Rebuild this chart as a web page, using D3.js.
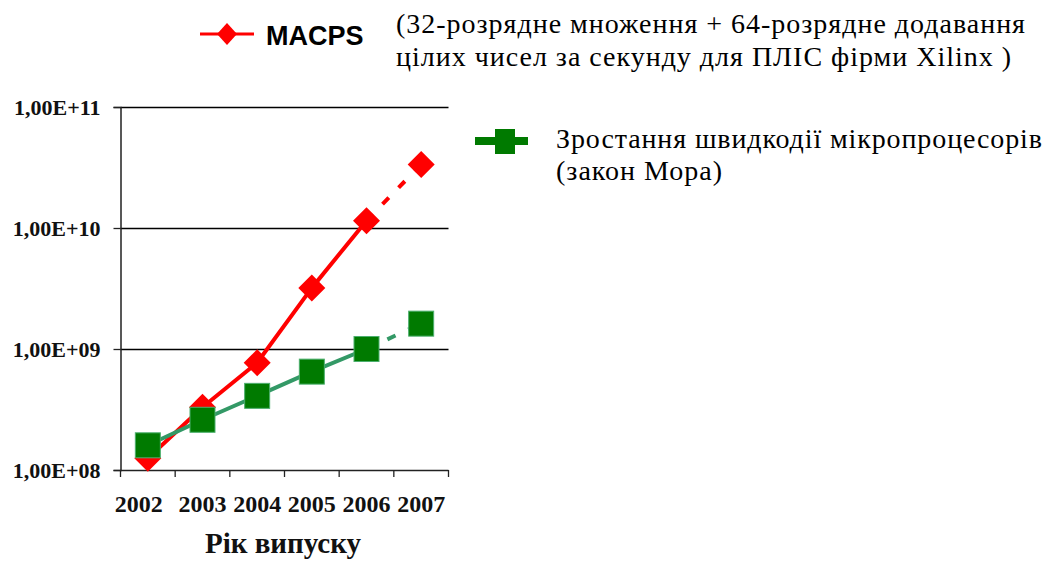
<!DOCTYPE html>
<html>
<head>
<meta charset="utf-8">
<script src="https://cdn.jsdelivr.net/npm/d3@7"></script>
<style>
  html, body { margin: 0; padding: 0; background: #fff; }
  svg { display: block; }
</style>
</head>
<body>
<svg id="chart" width="1050" height="562"></svg>
<script>
// Release years (category axis)
const years = ["2002", "2003", "2004", "2005", "2006", "2007"];
// MACPS: 32-bit multiply + 64-bit add operations per second, Xilinx FPGAs
const macps = [1.25e8, 3.3e8, 7.7e8, 3.2e9, 1.15e10, 3.35e10];
// Microprocessor performance growth (Moore's law)
const moore = [1.6e8, 2.6e8, 4.1e8, 6.5e8, 1.0e9, 1.62e9];
// Log-axis ticks and their labels
const yTicks = [1e8, 1e9, 1e10, 1e11];
const yTickLabels = ["1,00E+08", "1,00E+09", "1,00E+10", "1,00E+11"];
// Index of the last measured year; the segment after it is a forecast
const lastActual = 4;

const legendMacpsName = "MACPS";
const legendMacpsNote = ["(32-розрядне множення + 64-розрядне додавання",
                         "цілих чисел за секунду для ПЛІС фірми Xilinx )"];
const legendMooreNote = ["Зростання швидкодії мікропроцесорів", "(закон Мора)"];
const xTitle = "Рік випуску";

const svg = d3.select("#chart");
const serif = "'Liberation Serif', 'Times New Roman', serif";
const sans = "'Liberation Sans', Arial, sans-serif";

const plot = { left: 120.5, right: 448.5, top: 107, bottom: 470 };

const x = d3.scaleBand().domain(years).range([plot.left, plot.right]).padding(0);
const y = d3.scaleLog().domain([1e8, 1e11]).range([plot.bottom, plot.top]);
const cx = d => x(d) + x.bandwidth() / 2;

// Horizontal gridlines
svg.append("g")
  .selectAll("line")
  .data(yTicks.slice(1))
  .join("line")
  .attr("x1", plot.left).attr("x2", plot.right)
  .attr("y1", d => Math.round(y(d)) + 0.5).attr("y2", d => Math.round(y(d)) + 0.5)
  .attr("stroke", "#000").attr("stroke-width", 1.3);

// Y axis
const yAxis = d3.axisLeft(y)
  .tickValues(yTicks)
  .tickFormat((d, i) => yTickLabels[i])
  .tickSize(7)
  .tickPadding(13);
const gy = svg.append("g")
  .attr("transform", `translate(${plot.left},0)`)
  .call(yAxis);
gy.select(".domain").attr("stroke", "#222").attr("stroke-width", 1.5);
gy.selectAll(".tick line").attr("stroke", "#222").attr("stroke-width", 1.3);
gy.selectAll(".tick text")
  .attr("fill", "#111")
  .attr("font-family", serif)
  .attr("font-weight", "bold")
  .attr("font-size", 22);

// X axis: ticks at band boundaries, labels centred in bands
const gx = svg.append("g").attr("transform", `translate(0,${plot.bottom})`);
gx.append("line")
  .attr("x1", plot.left).attr("x2", plot.right)
  .attr("y1", 0.5).attr("y2", 0.5)
  .attr("stroke", "#222").attr("stroke-width", 1.5);
const edges = years.map(d => x(d)).concat([plot.right]);
gx.selectAll("line.tk")
  .data(edges)
  .join("line")
  .attr("class", "tk")
  .attr("x1", d => d).attr("x2", d => d)
  .attr("y1", 0).attr("y2", 7)
  .attr("stroke", "#222").attr("stroke-width", 1.3);
gx.selectAll("text")
  .data(years)
  .join("text")
  .attr("x", d => cx(d))
  .attr("dx", (d, i) => (i === 0 ? -9 : 0)) // first label nudged clear of its neighbour
  .attr("y", 42)
  .attr("text-anchor", "middle")
  .attr("fill", "#111")
  .attr("font-family", serif)
  .attr("font-weight", "bold")
  .attr("font-size", 24)
  .text(d => d);

svg.append("text")
  .attr("x", 283).attr("y", 553)
  .attr("text-anchor", "middle")
  .attr("fill", "#111")
  .attr("font-family", serif)
  .attr("font-weight", "bold")
  .attr("font-size", 29)
  .text(xTitle);

// Line helper
const line = d3.line().x(d => cx(d.year)).y(d => y(d.value));
const toPts = vals => years.map((yr, i) => ({ year: yr, value: vals[i] }));

function drawSeries(vals, color, width, dash) {
  const pts = toPts(vals);
  svg.append("path")
    .datum(pts.slice(0, lastActual + 1))
    .attr("d", line)
    .attr("fill", "none")
    .attr("stroke", color)
    .attr("stroke-width", width)
    .attr("stroke-linejoin", "round");
  svg.append("path")
    .datum(pts.slice(lastActual))
    .attr("d", line)
    .attr("fill", "none")
    .attr("stroke", color)
    .attr("stroke-width", width)
    .attr("stroke-dasharray", dash);
  return pts;
}

const diamond = r => `M0,${-r}L${r},0L0,${r}L${-r},0Z`;

// MACPS series
const redPts = drawSeries(macps, "#ff0000", 4, "9,14");
svg.append("g")
  .selectAll("path")
  .data(redPts)
  .join("path")
  .attr("transform", d => `translate(${cx(d.year)},${y(d.value)})`)
  .attr("d", diamond(13.5))
  .attr("fill", "#ff0000");

// Moore series
const greenPts = drawSeries(moore, "#339966", 4, "9,14");
svg.append("g")
  .selectAll("rect")
  .data(greenPts)
  .join("rect")
  .attr("x", d => cx(d.year) - 12.5)
  .attr("y", d => y(d.value) - 12.5)
  .attr("width", 25).attr("height", 25)
  .attr("fill", "#007a00")
  .attr("stroke", "#4caf6e")
  .attr("stroke-width", 1);

// Legend: MACPS
const lg1 = svg.append("g");
lg1.append("line")
  .attr("x1", 200).attr("x2", 254).attr("y1", 34).attr("y2", 34)
  .attr("stroke", "#ff0000").attr("stroke-width", 3);
lg1.append("path")
  .attr("transform", "translate(227,34)")
  .attr("d", "M0,-11L10,0L0,11L-10,0Z")
  .attr("fill", "#ff0000");
lg1.append("text")
  .attr("x", 266).attr("y", 45)
  .attr("fill", "#000")
  .attr("font-family", sans)
  .attr("font-weight", "bold")
  .attr("font-size", 27)
  .text(legendMacpsName);
// note lines, spread to the widths of the legend block
const noteWidths = [629, 615];
lg1.append("g")
  .selectAll("text")
  .data(legendMacpsNote)
  .join("text")
  .attr("x", 396)
  .attr("y", (d, i) => 33 + i * 33)
  .attr("fill", "#000")
  .attr("font-family", serif)
  .attr("font-size", 28)
  .attr("textLength", (d, i) => noteWidths[i])
  .attr("lengthAdjust", "spacing")
  .text(d => d);

// Legend: Moore's law
const lg2 = svg.append("g");
lg2.append("rect")
  .attr("x", 475).attr("y", 137).attr("width", 53).attr("height", 8)
  .attr("fill", "#007a00");
lg2.append("rect")
  .attr("x", 495).attr("y", 129).attr("width", 20).attr("height", 25)
  .attr("fill", "#007a00");
const mooreWidths = [486, 166];
lg2.append("g")
  .selectAll("text")
  .data(legendMooreNote)
  .join("text")
  .attr("x", 556)
  .attr("y", (d, i) => 148 + i * 32)
  .attr("fill", "#000")
  .attr("font-family", serif)
  .attr("font-size", 28)
  .attr("textLength", (d, i) => mooreWidths[i])
  .attr("lengthAdjust", "spacing")
  .text(d => d);
</script>
</body>
</html>
